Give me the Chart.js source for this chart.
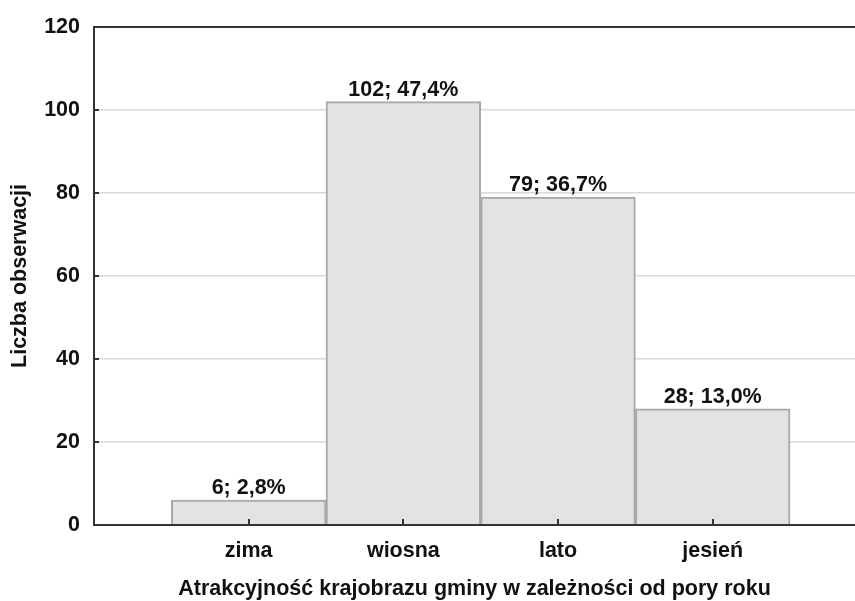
<!DOCTYPE html>
<html>
<head>
<meta charset="utf-8">
<script src="https://cdn.jsdelivr.net/npm/chart.js@4/dist/chart.umd.min.js"></script>
<style>
  html, body { margin: 0; padding: 0; background: #fff; }
  #wrap { width: 855px; height: 601px; }
</style>
</head>
<body>
<div id="wrap"><canvas id="seasons" width="855" height="601"></canvas></div>
<script>
const seasons = ['zima', 'wiosna', 'lato', 'jesień'];
const counts = [6, 102, 79, 28];
const yTicks = [0, 20, 40, 60, 80, 100, 120];

const total = counts.reduce((a, b) => a + b, 0);
const fontBold = { family: "'Liberation Sans', Arial, sans-serif", size: 21.5, weight: 'bold' };

// labels "n; p%" above each bar
const barLabels = {
    id: 'barLabels',
    afterDatasetsDraw(chart) {
        const ctx = chart.ctx;
        const meta = chart.getDatasetMeta(0);
        ctx.save();
        ctx.font = 'bold 21.5px "Liberation Sans", Arial, sans-serif';
        ctx.fillStyle = '#111';
        ctx.textAlign = 'center';
        ctx.textBaseline = 'alphabetic';
        meta.data.forEach((bar, i) => {
            const pct = (counts[i] / total * 100).toFixed(1).replace('.', ',');
            ctx.fillText(counts[i] + '; ' + pct + '%', bar.x, bar.y - 6);
        });
        ctx.restore();
    }
};

// short tick marks pointing into the plot
const innerTicks = {
    id: 'innerTicks',
    afterDraw(chart) {
        const { ctx, scales: { x, y } } = chart;
        ctx.save();
        ctx.strokeStyle = '#333';
        ctx.lineWidth = 2;
        ctx.beginPath();
        yTicks.slice(0, -1).forEach(v => {
            const py = Math.round(y.getPixelForValue(v));
            ctx.moveTo(x.left, py);
            ctx.lineTo(x.left + 5, py);
        });
        seasons.forEach((s, i) => {
            const px = Math.round(x.getPixelForValue(i + 1));
            ctx.moveTo(px, y.bottom);
            ctx.lineTo(px, y.bottom - 6);
        });
        ctx.stroke();
        ctx.restore();
    }
};

new Chart(document.getElementById('seasons'), {
    type: 'bar',
    data: {
        datasets: [{
            data: counts.map((c, i) => ({ x: i + 1, y: c })),
            backgroundColor: '#e3e3e3',
            borderColor: '#a8a8a8',
            borderWidth: 2,
            borderSkipped: 'bottom',
            barPercentage: 1,
            categoryPercentage: 1
        }]
    },
    options: {
        responsive: false,
        animation: false,
        layout: { padding: { top: 22, right: 0, left: 0, bottom: 0 } },
        plugins: { legend: { display: false }, tooltip: { enabled: false } },
        scales: {
            x: {
                type: 'linear',
                offset: false,
                min: 0,
                max: 4.92,
                afterBuildTicks: (scale) => { scale.ticks = seasons.map((s, i) => ({ value: i + 1 })); },
                afterFit: (scale) => { scale.height = 76; },
                grid: { display: false, drawTicks: false },
                border: { color: '#333', width: 2, z: 1 },
                ticks: {
                    color: '#111',
                    font: fontBold,
                    padding: 13,
                    maxRotation: 0,
                    autoSkip: false,
                    callback: (v) => seasons[v - 1] || ''
                },
                title: {
                    display: true,
                    text: 'Atrakcyjność krajobrazu gminy w zależności od pory roku',
                    color: '#111',
                    font: fontBold,
                    padding: { top: 0, bottom: -1 }
                }
            },
            y: {
                min: 0,
                max: 120,
                afterBuildTicks: (scale) => { scale.ticks = yTicks.map(v => ({ value: v })); },
                afterFit: (scale) => { scale.width = 94; },
                grid: {
                    drawTicks: false,
                    color: (c) => c.tick && c.tick.value === 120 ? '#333' : '#d9d9d9',
                    lineWidth: (c) => c.tick && c.tick.value === 120 ? 2 : 1.5
                },
                border: { color: '#333', width: 2 },
                ticks: { color: '#111', font: fontBold, padding: 14 },
                title: {
                    display: true,
                    text: 'Liczba obserwacji',
                    color: '#111',
                    font: fontBold,
                    padding: { top: 7, bottom: 0 }
                }
            }
        }
    },
    plugins: [barLabels, innerTicks]
});
</script>
</body>
</html>
